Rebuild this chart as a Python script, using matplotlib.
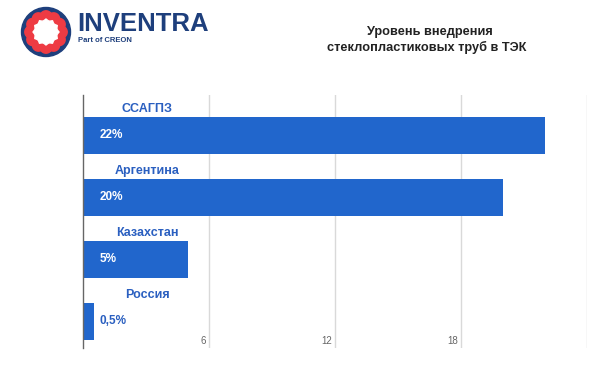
import matplotlib.pyplot as plt
import numpy as np
from matplotlib.patches import Circle, Polygon

countries = ["ССАГПЗ", "Аргентина", "Казахстан", "Россия"]
shares = [22, 20, 5, 0.5]
share_labels = ["22%", "20%", "5%", "0,5%"]
x_ticks = [6, 12, 18, 24]
x_tick_labels = ["6", "12", "18", ""]

BAR_BLUE = "#2166cc"
LABEL_BLUE = "#2a5fc0"
LOGO_BLUE = "#1e3f7c"
LOGO_RED = "#ee3b43"

fig = plt.figure(figsize=(5.98, 3.76), dpi=100)
fig.patch.set_facecolor("white")

# chart area: 62 px per category slot
ax = fig.add_axes([83 / 598, 1 - 348 / 376, (587 - 83) / 598, (348 - 95) / 376])
ax.set_xlim(0, 24)
ax.set_ylim(253 / 62, 0)

ypos = np.arange(len(countries))
ax.barh(ypos + 0.653, shares, height=0.605, color=BAR_BLUE, zorder=2)

for i, (name, val, lab) in enumerate(zip(countries, shares, share_labels)):
    ax.text(3.05, i + 0.22, name, ha="center", va="center", color=LABEL_BLUE,
            fontsize=9, fontweight="bold", family="Liberation Sans")
    if val > 2:
        ax.text(0.8, i + 0.653, lab, ha="left", va="center", color="white",
                fontsize=8.5, fontweight="bold", family="Liberation Sans", zorder=3)
    else:
        ax.text(val + 0.3, i + 0.653, lab, ha="left", va="center", color=LABEL_BLUE,
                fontsize=8.5, fontweight="bold", family="Liberation Sans", zorder=3)

for t, lab in zip(x_ticks, x_tick_labels):
    ax.axvline(t, color="#d9d9d9", lw=1, zorder=1)
    ax.text(t - 0.15, 4.05, lab, ha="right", va="bottom", color="#666666",
            fontsize=7, family="Liberation Sans")

ax.set_xticks([])
ax.set_yticks([])
for side in ["top", "right", "bottom"]:
    ax.spines[side].set_visible(False)
ax.spines["left"].set_color("#666666")
ax.spines["left"].set_linewidth(1)

# logo
lax = fig.add_axes([0, 1 - 64 / 376, 1, 64 / 376])
lax.set_xlim(0, 598)
lax.set_ylim(64, 0)
lax.axis("off")
cx, cy = 46, 32
lax.add_patch(Circle((cx, cy), 24.5, color=LOGO_BLUE))
th = np.linspace(0, 2 * np.pi, 400)
r_out = 19.0 + 2.2 * np.abs(np.cos(6 * th)) ** 0.7
lax.add_patch(Polygon(np.c_[cx + r_out * np.cos(th), cy + r_out * np.sin(th)], color=LOGO_RED))
r_in = 13.0 - 1.6 * np.abs(np.sin(6 * th))
lax.add_patch(Polygon(np.c_[cx + r_in * np.cos(th), cy + r_in * np.sin(th)], color="white"))
lax.set_aspect("equal")
lax.text(77, 31, "INVENTRA", ha="left", va="baseline", color=LOGO_BLUE,
         fontsize=18.5, fontweight="bold", family="Liberation Sans")
lax.text(78, 42.5, "Part of CREON", ha="left", va="baseline", color=LOGO_BLUE,
         fontsize=5.5, fontweight="bold", family="Liberation Sans")

# title
fig.text(430 / 598, 1 - 32 / 376, "Уровень внедрения", ha="center", va="center",
         fontsize=9.2, fontweight="bold", family="Liberation Sans", color="#222222")
fig.text(427 / 598, 1 - 47 / 376, "стеклопластиковых труб в ТЭК", ha="center", va="center",
         fontsize=9.2, fontweight="bold", family="Liberation Sans", color="#222222")

fig.savefig("out.png", dpi=100)
